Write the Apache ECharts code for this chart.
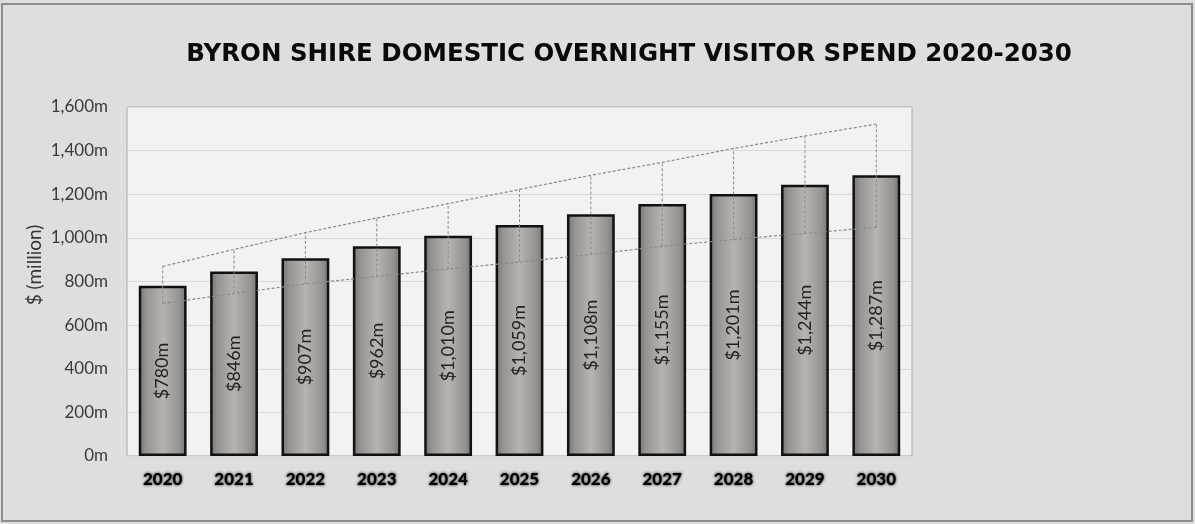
<!DOCTYPE html>
<html>
<head>
<meta charset="utf-8">
<script src="https://cdn.jsdelivr.net/npm/echarts@6/dist/echarts.min.js"></script>
<style>
  html, body { margin: 0; padding: 0; background: #dedede; }
  #chart { width: 1195px; height: 524px; }
</style>
</head>
<body>
<div id="chart"></div>
<script>
// Byron Shire domestic overnight visitor spend, $ million
const years = ['2020', '2021', '2022', '2023', '2024', '2025', '2026', '2027', '2028', '2029', '2030'];
const spend = [780, 846, 907, 962, 1010, 1059, 1108, 1155, 1201, 1244, 1287];
// forecast range (upper / lower bound)
const upperBound = [869, 947, 1024, 1091, 1157, 1222, 1287, 1346, 1410, 1467, 1522];
const lowerBound = [699, 745, 789, 823, 858, 889, 924, 961, 993, 1021, 1048];
const yMin = 0, yMax = 1600, yStep = 200;

const fmtMoney = v => '$' + v.toLocaleString('en-US') + 'm';
const fmtTick = v => v.toLocaleString('en-US') + 'm';

const chart = echarts.init(document.getElementById('chart'), null, { renderer: 'canvas' });

const dashColor = '#8a8a8a';

chart.setOption({
  animation: false,
  backgroundColor: '#dedede',
  title: {
    text: 'BYRON SHIRE DOMESTIC OVERNIGHT VISITOR SPEND 2020-2030',
    left: 624,
    textAlign: 'center',
    top: 37,
    textStyle: {
      fontFamily: 'DejaVu Sans',
      fontWeight: 'bold',
      fontSize: 24.5,
      color: '#0a0a0a'
    }
  },
  graphic: [
    {
      type: 'rect',
      shape: { x: 2, y: 4, width: 1190, height: 517 },
      style: { fill: 'none', stroke: '#8c8c8c', lineWidth: 2 },
      silent: true
    },
    {
      // value-axis title
      type: 'text',
      x: 35, y: 265,
      rotation: Math.PI / 2,
      style: {
        text: '$ (million)',
        align: 'center',
        verticalAlign: 'middle',
        fontFamily: 'Lato',
        fontSize: 19,
        fill: '#333'
      },
      silent: true
    }
  ],
  grid: {
    left: 127, right: 283, top: 107, bottom: 68,
    show: true,
    backgroundColor: '#f2f2f2',
    borderColor: '#a9a9a9',
    borderWidth: 1
  },
  xAxis: {
    type: 'category',
    data: years,
    axisLine: { show: false },
    axisTick: { show: false },
    axisLabel: {
      margin: 15,
      fontFamily: 'Lato',
      fontWeight: 900,
      fontSize: 17,
      color: '#000',
      textShadowColor: 'rgba(0,0,0,0.9)',
      textShadowBlur: 3
    }
  },
  yAxis: {
    type: 'value',
    min: yMin, max: yMax, interval: yStep,
    axisLine: { show: false },
    axisTick: { show: false },
    splitLine: { lineStyle: { color: '#d9d9d9', width: 1 } },
    axisLabel: {
      formatter: fmtTick,
      margin: 19,
      fontFamily: 'Lato',
      fontSize: 17,
      color: '#3a3a3a'
    }
  },
  series: [
    {
      type: 'bar',
      data: spend,
      barWidth: '67%',
      z: 2,
      itemStyle: {
        color: new echarts.graphic.LinearGradient(0, 0, 1, 0, [
          { offset: 0, color: '#74706f' },
          { offset: 0.15, color: '#96928f' },
          { offset: 0.5, color: '#b7b3b1' },
          { offset: 0.85, color: '#96928f' },
          { offset: 1, color: '#74706f' }
        ]),
        borderColor: '#111',
        borderWidth: 2.5
      },
      label: {
        show: true,
        position: 'inside',
        rotate: 90,
        formatter: p => fmtMoney(p.value),
        fontFamily: 'Lato',
        fontSize: 18,
        color: '#222'
      }
    },
    {
      type: 'line',
      data: upperBound,
      symbol: 'none',
      z: 5,
      lineStyle: { color: dashColor, width: 1.2, type: [3, 2] }
    },
    {
      type: 'line',
      data: lowerBound,
      symbol: 'none',
      z: 5,
      lineStyle: { color: dashColor, width: 1.2, type: [3, 2] }
    },
    {
      // high-low drop lines between the two bounds
      type: 'custom',
      z: 5,
      data: years.map((y, i) => [i, lowerBound[i], upperBound[i]]),
      renderItem: (params, api) => {
        const p1 = api.coord([api.value(0), api.value(1)]);
        const p2 = api.coord([api.value(0), api.value(2)]);
        return {
          type: 'line',
          shape: { x1: p1[0], y1: p1[1], x2: p2[0], y2: p2[1] },
          style: { stroke: dashColor, lineWidth: 1, lineDash: [3, 2] }
        };
      }
    }
  ]
});
</script>
</body>
</html>
